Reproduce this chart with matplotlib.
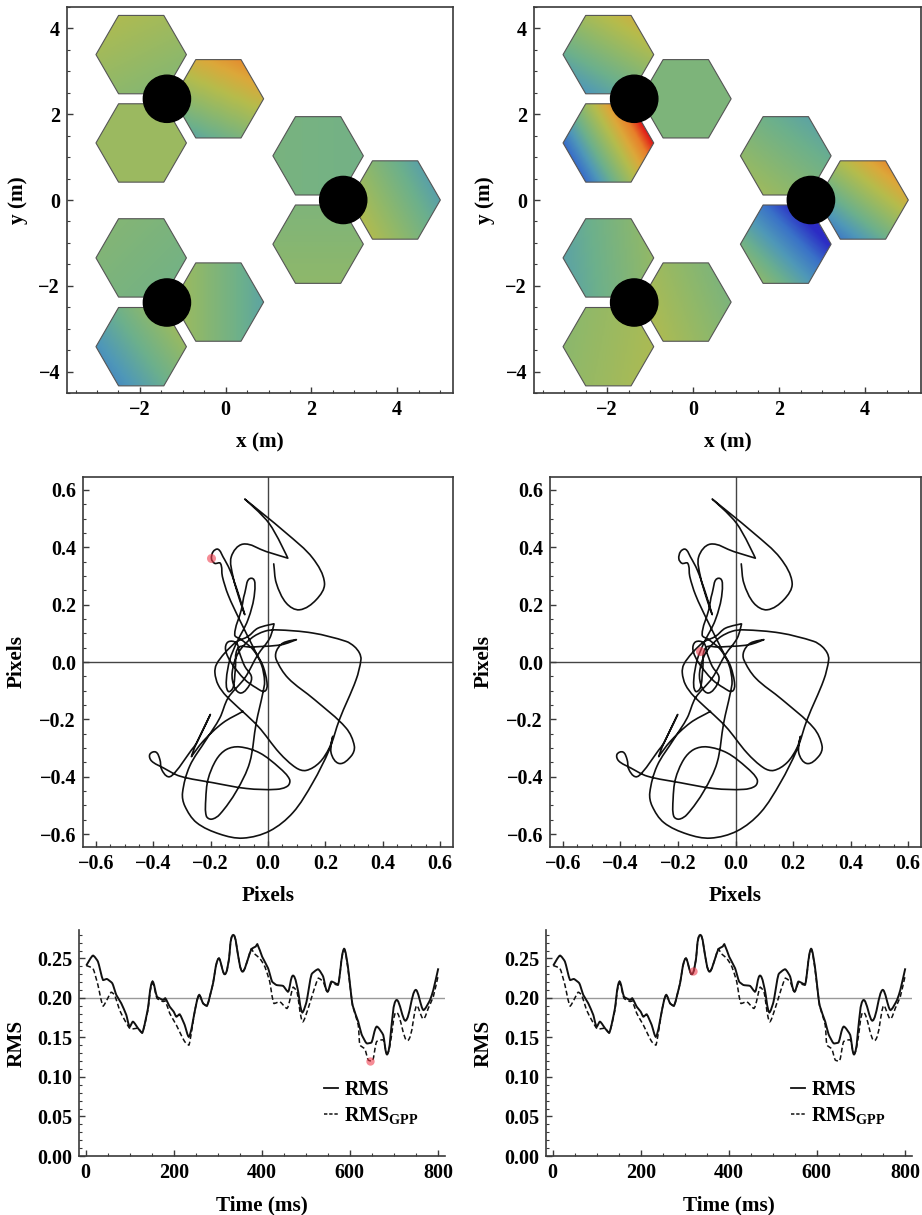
"""Segmented-mirror wavefront maps, image-motion tracks and RMS curves, two columns."""
import matplotlib

matplotlib.use("Agg")
import matplotlib.pyplot as plt
import numpy as np
from matplotlib.colors import LinearSegmentedColormap
from matplotlib.lines import Line2D
from matplotlib.patches import Circle, PathPatch, RegularPolygon
from matplotlib.path import Path
from matplotlib.ticker import FixedLocator, MultipleLocator

W, H = 922, 1215

plt.rcParams["font.family"] = ["Liberation Serif", "DejaVu Serif"]
plt.rcParams["font.weight"] = "bold"
plt.rcParams["axes.labelweight"] = "bold"
plt.rcParams["mathtext.fontset"] = "custom"
plt.rcParams["mathtext.rm"] = "Liberation Serif:bold"
plt.rcParams["mathtext.default"] = "rm"

# hexagon segments: centre, then the map value at the centre and its slope per metre
HEX_X = [-1.97, -1.97, -0.17, 2.155, 2.155, 3.95, -1.97, -1.97, -0.17]
HEX_Y = [3.39, 1.33, 2.36, 1.03, -1.03, 0.0, -1.35, -3.42, -2.38]
HUB_X = [-1.37, 2.74, -1.37]
HUB_Y = [2.36, 0.0, -2.39]

LEFT_C = [0.53, 0.54, 0.58, 0.41, 0.47, 0.45, 0.43, 0.38, 0.44]
LEFT_GX = [-0.03, 0.0, 0.10, -0.01, 0.0, -0.15, -0.02, 0.14, -0.12]
LEFT_GY = [0.06, 0.0, 0.22, 0.0, -0.03, -0.077, 0.02, 0.10, 0.0]

RIGHT_C = [0.47, 0.56, 0.44, 0.43, 0.20, 0.50, 0.41, 0.54, 0.52]
RIGHT_GX = [0.11, 0.42, 0.0, -0.07, -0.20, 0.20, 0.10, 0.05, -0.08]
RIGHT_GY = [0.18, 0.24, 0.0, -0.09, -0.19, 0.25, 0.01, -0.01, -0.03]

MAP_COLORS = ["#2c2cc4", "#3a72c8", "#4f98b8", "#6cb08c", "#8fb86a", "#b5bc4c",
              "#dca83a", "#e8802a", "#e01818"]

# image-motion track, pixels
TRACK_X = [-0.087, -0.157, -0.226, -0.267, -0.267, -0.255, -0.201, -0.201, -0.249, -0.267,
           -0.325, -0.348, -0.371, -0.377, -0.391, -0.412, -0.406, -0.365, -0.307, -0.191,
           -0.075, 0.029, 0.069, 0.075, 0.040, -0.029, -0.099, -0.145, -0.180, -0.209,
           -0.217, -0.215, -0.197, -0.168, -0.110, -0.064, -0.041, -0.018, -0.012, -0.023,
           -0.052, -0.093, -0.116, -0.093, -0.081, -0.058, -0.047, -0.070, -0.110, -0.133,
           -0.145, -0.139, -0.122, -0.114, -0.104, -0.058, 0.046, 0.099, 0.099, 0.052,
           0.029, 0.029, 0.070, 0.162, 0.272, 0.301, 0.290, 0.249, 0.220, 0.226,
           0.226, 0.214, 0.179, 0.133, 0.098, 0.040, -0.035, -0.145, -0.174, -0.185,
           -0.180, -0.151, -0.110, -0.070, -0.035, 0.021, 0.021, 0.006, -0.035, -0.081,
           -0.139, -0.168, -0.215, -0.273, -0.298, -0.290, -0.249, -0.168, -0.087, 0.006,
           0.087, 0.156, 0.214, 0.249, 0.307, 0.324, 0.319, 0.301, 0.272, 0.156, 0.029,
           -0.012, -0.058, -0.104, -0.125, -0.116, -0.093, -0.064, -0.058, -0.081, -0.099,
           -0.110, -0.139, -0.148, -0.128, -0.081, -0.041, -0.012, -0.003, -0.017, -0.041,
           -0.099, -0.139, -0.159, -0.166, -0.186, -0.197, -0.191, -0.174, -0.157, -0.133,
           -0.104, -0.081, -0.081, -0.099, -0.122, -0.128, -0.087, -0.006, 0.069, 0.069,
           0.004, -0.081, -0.081, 0.064, 0.156, 0.197, 0.168, 0.110, 0.064, 0.029, 0.020]
TRACK_Y = [-0.172, -0.212, -0.276, -0.330, -0.330, -0.296, -0.183, -0.183, -0.282, -0.307,
           -0.386, -0.400, -0.374, -0.340, -0.314, -0.322, -0.345, -0.369, -0.398, -0.421,
           -0.441, -0.444, -0.432, -0.409, -0.369, -0.317, -0.296, -0.305, -0.340, -0.409,
           -0.479, -0.537, -0.548, -0.531, -0.450, -0.351, -0.212, -0.108, -0.067, -0.009,
           0.043, 0.078, 0.095, 0.182, 0.240, 0.292, 0.240, 0.147, 0.066, 0.008,
           -0.061, -0.102, -0.090, -0.027, 0.049, 0.052, 0.060, 0.078, 0.078, 0.066,
           0.037, 0.008, -0.056, -0.131, -0.230, -0.293, -0.328, -0.354, -0.317, -0.259,
           -0.259, -0.299, -0.351, -0.378, -0.369, -0.317, -0.224, -0.119, -0.079, -0.038,
           -0.009, 0.031, 0.070, 0.089, 0.118, 0.133, 0.133, 0.083, 0.026, -0.056,
           -0.125, -0.195, -0.270, -0.363, -0.456, -0.502, -0.560, -0.600, -0.614, -0.589,
           -0.525, -0.421, -0.305, -0.201, -0.062, 0.008, 0.031, 0.054, 0.072, 0.101, 0.112,
           0.107, 0.083, 0.031, -0.038, -0.090, -0.108, -0.079, -0.050, -0.015, 0.031,
           0.066, 0.070, 0.043, -0.003, -0.061, -0.090, -0.102, -0.079, -0.015, 0.031,
           0.147, 0.234, 0.298, 0.344, 0.344, 0.360, 0.385, 0.393, 0.367, 0.321,
           0.240, 0.165, 0.165, 0.217, 0.298, 0.367, 0.411, 0.385, 0.362, 0.362,
           0.483, 0.568, 0.568, 0.449, 0.362, 0.275, 0.217, 0.182, 0.205, 0.275, 0.342]

# RMS against time, ms
RMS_T = [1.5, 16.6, 28, 39.4, 48.4, 60.6, 69.7, 81, 92.4, 100, 107.5, 119, 128.8, 141.6,
         151.5, 162, 175.7, 181, 190.9, 200, 206, 213.6, 225, 234.8, 247.7, 257.5, 266.6,
         275.7, 289.4, 302, 316, 325.7, 334.8, 346, 356, 369, 376.5, 386, 390, 400.8, 414.4,
         423.5, 433.3, 448.5, 460, 471, 482.6, 491.7, 501.6, 513, 528, 539.4, 549, 558, 573.5,
         586.4, 596, 606, 619, 626.6, 638, 649.3, 660.7, 675.8, 685, 694.8, 706, 726.6, 749,
         766.7, 782, 789.5, 800.8]
RMS_V = [0.241, 0.2536, 0.246, 0.2228, 0.224, 0.2186, 0.2038, 0.1932, 0.1785, 0.1637, 0.170,
         0.1616, 0.156, 0.187, 0.2207, 0.2017, 0.1975, 0.1996, 0.189, 0.1827, 0.1763, 0.1793,
         0.1658, 0.151, 0.1827, 0.2038, 0.1932, 0.19, 0.2186, 0.25, 0.230, 0.25, 0.2797,
         0.2544, 0.2333, 0.25, 0.262, 0.265, 0.268, 0.2523, 0.2375, 0.2207, 0.2164, 0.2152,
         0.208, 0.2283, 0.208, 0.1818, 0.1953, 0.2299, 0.2363, 0.227, 0.208, 0.2207, 0.2173,
         0.262, 0.2376, 0.1911, 0.170, 0.154, 0.1426, 0.1438, 0.1637, 0.153, 0.1287, 0.1658,
         0.1974, 0.1713, 0.2101, 0.1848, 0.1974, 0.2101, 0.2375]
GPP_T = [1.5, 16.6, 28, 39.4, 48.4, 58, 66, 77, 88.6, 101.5, 119, 128.8, 141.6, 151.5, 162,
         175.7, 181, 190.9, 206, 217, 225, 234.8, 247.7, 257.5, 266.6, 275.7, 289.4, 302, 316,
         325.7, 334.8, 346, 356, 369, 376.5, 382, 395.5, 407, 418, 427.3, 441, 457.6, 471, 480,
         492.5, 505.3, 528, 539.4, 549, 558, 573.5, 586.4, 596, 606, 619, 622.8, 634, 641.7,
         651.6, 660.7, 675.8, 685, 694.8, 706, 731, 751.6, 766.7, 778, 789.5, 800.8]
GPP_V = [0.241, 0.2375, 0.2164, 0.1899, 0.1975, 0.2072, 0.2038, 0.1848, 0.1721, 0.1608, 0.1616,
         0.156, 0.185, 0.2186, 0.1996, 0.1955, 0.1962, 0.1806, 0.1658, 0.1531, 0.1447, 0.1405,
         0.1827, 0.2038, 0.1932, 0.19, 0.2186, 0.25, 0.230, 0.25, 0.2797, 0.2544, 0.2333, 0.25,
         0.262, 0.2565, 0.2502, 0.2396, 0.2207, 0.1932, 0.1953, 0.1869, 0.2135, 0.208, 0.170,
         0.1869, 0.2249, 0.2207, 0.208, 0.2185, 0.2165, 0.2608, 0.2354, 0.1911, 0.1658, 0.1405,
         0.1354, 0.1215, 0.1202, 0.1447, 0.1468, 0.13, 0.1531, 0.1818, 0.146, 0.1903, 0.1734,
         0.1869, 0.2017, 0.2291]

# red markers, one per column
TRACK_DOT_X = [-0.197, -0.125]
TRACK_DOT_Y = [0.362, 0.040]
RMS_DOT_T = [645, 318]
RMS_DOT_V = [0.120, 0.234]

HEX_RADIUS = 1.055
HUB_RADIUS = 0.55
DOT_COLOR = "#f0405099"
TICK_SIZE = 14.5
LABEL_SIZE = 15.3


def px_axes(fig, left, top, right, bottom):
    return fig.add_axes([left / W, 1 - bottom / H, (right - left) / W, (bottom - top) / H])


def style(ax):
    for s in ax.spines.values():
        s.set_linewidth(1.2)
        s.set_color("#3a3a3a")
    ax.tick_params(which="major", direction="in", length=4, width=1.0, labelsize=TICK_SIZE,
                   color="#3a3a3a", pad=5)
    ax.tick_params(which="minor", direction="in", length=2, width=0.8, color="#3a3a3a")


def draw_map(ax, cmap, centre, gx, gy):
    for cx, cy, c, sx, sy in zip(HEX_X, HEX_Y, centre, gx, gy):
        hexagon = RegularPolygon((cx, cy), 6, radius=HEX_RADIUS, orientation=np.pi / 6,
                                 facecolor="none", edgecolor="#555555", lw=0.8, zorder=3)
        ax.add_patch(hexagon)
        xs = np.linspace(cx - HEX_RADIUS, cx + HEX_RADIUS, 60)
        ys = np.linspace(cy - HEX_RADIUS, cy + HEX_RADIUS, 60)
        xx, yy = np.meshgrid(xs, ys)
        im = ax.imshow(c + sx * (xx - cx) + sy * (yy - cy), cmap=cmap, vmin=0, vmax=1,
                       origin="lower", aspect="auto", interpolation="bilinear", zorder=2,
                       extent=(xs[0], xs[-1], ys[0], ys[-1]))
        im.set_clip_path(hexagon)
    for hx, hy in zip(HUB_X, HUB_Y):
        ax.add_patch(Circle((hx, hy), HUB_RADIUS, color="black", zorder=4))
    ax.set_xlim(-3.7, 5.3)
    ax.set_ylim(-4.5, 4.5)
    ax.xaxis.set_major_locator(FixedLocator([-2, 0, 2, 4]))
    ax.yaxis.set_major_locator(FixedLocator([-4, -2, 0, 2, 4]))
    ax.xaxis.set_minor_locator(MultipleLocator(0.5))
    ax.yaxis.set_minor_locator(MultipleLocator(0.5))
    ax.set_xlabel("x (m)", fontsize=LABEL_SIZE)
    ax.set_ylabel("y (m)", fontsize=LABEL_SIZE)


def smooth_path(ax, xs, ys, tension=3):
    # smooth through the traced points at screen scale; repeated points stay sharp cusps
    box = ax.get_position()
    scale = np.array([box.width * W / np.ptp(ax.get_xlim()), box.height * H / np.ptp(ax.get_ylim())])
    p = np.column_stack([xs, ys]) * scale
    prev = np.vstack([p[0], p[:-1]])
    nxt = np.vstack([p[1:], p[-1]])
    chord = nxt - prev
    norm = np.hypot(chord[:, 0], chord[:, 1])
    unit = chord / np.where(norm > 0, norm, 1)[:, None]
    seg = np.hypot(*(p[1:] - p[:-1]).T)
    sharp = np.zeros(len(p), bool)
    sharp[:-1] |= seg == 0
    sharp[1:] |= seg == 0
    unit[sharp] = 0
    verts, codes = [p[0]], [Path.MOVETO]
    for i in range(len(p) - 1):
        verts += [p[i] + unit[i] * seg[i] / tension, p[i + 1] - unit[i + 1] * seg[i] / tension,
                  p[i + 1]]
        codes += [Path.CURVE4] * 3
    return Path(np.array(verts) / scale, codes)


def draw_track(ax, dot_x, dot_y):
    ax.set_xlim(-0.645, 0.645)
    ax.set_ylim(-0.645, 0.645)
    ax.axhline(0, color="#444444", lw=1.0, zorder=1)
    ax.axvline(0, color="#444444", lw=1.0, zorder=1)
    ax.add_patch(PathPatch(smooth_path(ax, TRACK_X, TRACK_Y), fill=False, ec="#111111", lw=1.2,
                           capstyle="round", joinstyle="round", zorder=2))
    ax.plot([dot_x], [dot_y], "o", color=DOT_COLOR, mec="none", ms=6.5, zorder=3)
    for axis in (ax.xaxis, ax.yaxis):
        axis.set_major_locator(MultipleLocator(0.2))
        axis.set_minor_locator(MultipleLocator(0.05))
        axis.set_major_formatter("{x:.1f}")
    ax.set_xlabel("Pixels", fontsize=LABEL_SIZE)
    ax.set_ylabel("Pixels", fontsize=LABEL_SIZE)


def draw_rms(ax, dot_t, dot_v):
    ax.set_xlim(-15, 816)
    ax.set_ylim(0, 0.286)
    ax.axhline(0.2, color="#999999", lw=1.0, zorder=1)
    dash = (0, (3.2, 1.8))
    ax.add_patch(PathPatch(smooth_path(ax, RMS_T, RMS_V, tension=7), fill=False, ec="#111111",
                           lw=1.4, zorder=2))
    ax.add_patch(PathPatch(smooth_path(ax, GPP_T, GPP_V, tension=7), fill=False, ec="#111111",
                           lw=1.1, ls=dash, zorder=3))
    ax.plot([dot_t], [dot_v], "o", color=DOT_COLOR, mec="none", ms=6, zorder=4)
    ax.spines["top"].set_visible(False)
    ax.spines["right"].set_visible(False)
    ax.xaxis.set_major_locator(MultipleLocator(200))
    ax.xaxis.set_minor_locator(MultipleLocator(50))
    ax.yaxis.set_major_locator(MultipleLocator(0.05))
    ax.yaxis.set_minor_locator(MultipleLocator(0.01))
    ax.yaxis.set_major_formatter("{x:.2f}")
    ax.set_xlabel("Time (ms)", fontsize=LABEL_SIZE)
    ax.set_ylabel("RMS", fontsize=LABEL_SIZE)
    handles = [Line2D([], [], color="#111111", lw=1.3, label="RMS"),
               Line2D([], [], color="#111111", lw=1.1, ls=(0, (2.2, 1.2)),
                      label=r"RMS$_{\mathrm{GPP}}$")]
    ax.legend(handles=handles, loc="center left", bbox_to_anchor=(0.67, 0.235), frameon=False,
              fontsize=TICK_SIZE, handlelength=0.7, handletextpad=0.3, labelspacing=0.25,
              borderpad=0, borderaxespad=0)


def main():
    fig = plt.figure(figsize=(W / 100, H / 100), dpi=100)
    cmap = LinearSegmentedColormap.from_list("wavefront", MAP_COLORS)

    a = px_axes(fig, 67, 7, 453, 393)
    b = px_axes(fig, 534, 7, 921, 393)
    draw_map(a, cmap, LEFT_C, LEFT_GX, LEFT_GY)
    draw_map(b, cmap, RIGHT_C, RIGHT_GX, RIGHT_GY)

    c = px_axes(fig, 83, 477, 453, 847)
    d = px_axes(fig, 550, 477, 921, 847)
    draw_track(c, TRACK_DOT_X[0], TRACK_DOT_Y[0])
    draw_track(d, TRACK_DOT_X[1], TRACK_DOT_Y[1])

    e = px_axes(fig, 79, 930, 445, 1156)
    f = px_axes(fig, 546, 930, 912, 1156)
    draw_rms(e, RMS_DOT_T[0], RMS_DOT_V[0])
    draw_rms(f, RMS_DOT_T[1], RMS_DOT_V[1])

    for ax in (a, b, c, d, e, f):
        style(ax)
    # axis titles sit at fixed pixel offsets from each frame
    for ax, x_drop, y_left in ((a, 39, 39), (b, 39, 39), (c, 39, 56), (d, 39, 56),
                               (e, 39, 52), (f, 39, 52)):
        box = ax.get_position()
        ax.xaxis.set_label_coords(0.5, -x_drop / (box.height * H))
        ax.yaxis.set_label_coords(-y_left / (box.width * W), 0.5)

    fig.savefig("out.png", dpi=100)
    plt.close(fig)


if __name__ == "__main__":
    main()
